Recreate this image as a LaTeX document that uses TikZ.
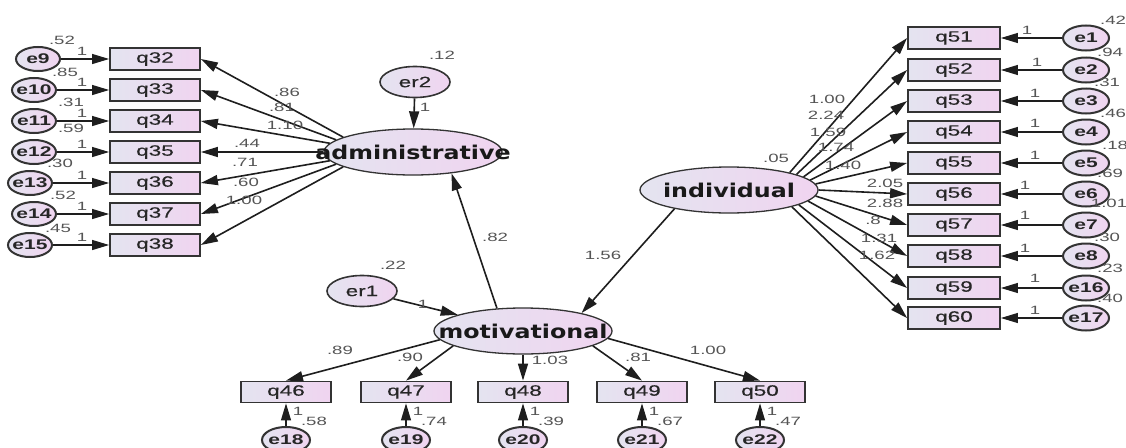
\documentclass[tikz,border=0pt]{standalone}
\usepackage{fontspec}
\usetikzlibrary{shapes.geometric,arrows.meta}
\newfontfamily\obsfont[FakeStretch=1.5,FakeBold=0.4]{Liberation Sans}
\newfontfamily\errfont[FakeStretch=1.5]{Liberation Sans}
\newfontfamily\latfont[FakeStretch=1.25]{DejaVu Sans}
\newfontfamily\lblfont[FakeStretch=1.55]{Liberation Sans}
\definecolor{lnc}{HTML}{1E1E1E}
\definecolor{bdr}{HTML}{333333}
\definecolor{shL}{HTML}{E4E4F0}
\definecolor{shR}{HTML}{F0D4F0}
\definecolor{lblc}{HTML}{555555}
\definecolor{txtc}{HTML}{262626}
\tikzset{
 obs/.style={rectangle, draw=bdr, line width=1.8pt, minimum width=90pt, minimum height=22pt, inner sep=0pt, left color=shL, right color=shR, font=\obsfont\fontsize{15}{15}\selectfont, text=txtc},
 err/.style={ellipse, draw=bdr, line width=2pt, minimum width=44pt, minimum height=24pt, inner sep=0pt, left color=shL, right color=shR, font=\errfont\fontsize{14}{14}\selectfont\bfseries, text=txtc},
 dist/.style={ellipse, draw=bdr, line width=1.6pt, minimum width=70pt, minimum height=31pt, inner sep=0pt, left color=shL, right color=shR, font=\obsfont\fontsize{15}{15}\selectfont, text=txtc},
 lat/.style={ellipse, draw=bdr, line width=1.3pt, minimum width=178pt, minimum height=46pt, inner sep=0pt, left color=shL, right color=shR, font=\latfont\bfseries\fontsize{19}{19}\selectfont, text=black!90},
 lbl/.style={font=\lblfont\fontsize{12}{12}\selectfont, text=lblc, inner sep=0pt},
 conn/.style={draw=lnc, line width=1.6pt, -{Triangle[length=17pt,width=10pt]}},
 econn/.style={draw=lnc, line width=1.1pt, -{Triangle[length=17pt,width=10pt]}},
}
\newcommand{\ctr}[1]{\makebox[0pt]{#1}}
\begin{document}
\begin{tikzpicture}[x=1pt,y=-1pt]
\useasboundingbox (0,0) rectangle (1126,447);
\fill[white] (0,0) rectangle (1126,447);
% latent variables
\node[lat] (adm) at (413,152) {\ctr{administrative}};
\node[lat] (mot) at (523,331) {\ctr{motivational}};
\node[lat] (ind) at (729,190) {\ctr{individual}};
\node[dist] (er2) at (415,82) {er2};
\node[dist] (er1) at (362,291) {er1};
\draw[conn] (er2) -- (adm);
\draw[conn] (er1) -- (mot);
\draw[conn] (mot.139) -- (adm.331);
\draw[conn] (ind.199) -- (mot.17);
\node[lbl] (v12) at (442,55) {.12};
\node[lbl] (o12) at (425,107) {1};
\node[lbl] (v22) at (393,265) {.22};
\node[lbl] (o22) at (423,304) {1};
\node[lbl] (v05) at (776,158) {.05};
\node[lbl] (c82) at (495,237) {.82};
\node[lbl] (c156) at (603,255) {1.56};
% left block
\foreach \q/\e/\y/\ex/\v/\vx/\vy in {32/9/59/38/.52/62/40, 33/10/90/34/.85/65/72, 34/11/121/34/.31/71/102, 35/12/152/34/.59/71/128, 36/13/183/30/.30/60/163, 37/14/214/34/.52/63/195, 38/15/245/30/.45/58/228}{
 \node[obs] (q\q) at (155,\y) {q\q};
 \node[err] (e\e) at (\ex,\y) {\ctr{e\e}};
 \draw[econn] (e\e) -- (q\q);
 \node[lbl] (o\e) at (82,\y-8) {1};
 \node[lbl] (v\e) at (\vx,\vy) {\v};
}
\foreach \q/\a/\lx/\ly/\t in {32/168/287/92/.86, 33/171/282/107/.81, 34/174/285/125/1.10, 35/180/247/143/.44, 36/186/245/162/.71, 37/189/246/182/.60, 38/192/244/200/1.00}{
 \draw[conn] (adm.\a) -- (q\q.east);
 \node[lbl] (c\q) at (\lx,\ly) {\t};
}
% right block
\foreach \q/\e/\y/\a/\t/\lx/\ly/\v/\vx/\vy/\ox/\oy in {51/1/38/16/1.00/827/99/.42/1113/20/1027/30, 52/2/70/13/2.24/826/115/.94/1110/52/1037/62, 53/3/101/10/1.59/828/132/.31/1107/82/1035/93, 54/4/132/7/1.74/836/147/.46/1113/113/1035/123, 55/5/163/4/1.40/843/165/.18/1115/145/1035/155, 56/6/194/0/2.05/885/183/.69/1110/173/1025/185, 57/7/225/356/2.88/885/203/1.01/1109/203/1025/215, 58/8/256/352/.8/873/220/.30/1107/237/1025/248, 59/16/288/348/1.31/879/238/.23/1110/268/1035/278, 60/17/318/345/1.62/877/255/.40/1110/298/1035/310}{
 \node[obs, minimum width=92pt] (q\q) at (954,\y) {q\q};
 \node[err, minimum width=46pt, minimum height=25pt] (e\e) at (1086,\y) {\ctr{e\e}};
 \draw[econn] (e\e) -- (q\q);
 \draw[conn] (ind.\a) -- (q\q.west);
 \node[lbl] (o\e) at (\ox,\oy) {1};
 \node[lbl] (v\e) at (\vx,\vy) {\v};
 \node[lbl] (c\q) at (\lx,\ly) {\t};
}
% bottom block
\foreach \q/\e/\x/\a/\t/\lx/\ly/\v in {46/18/286/186/.89/340/350/.58, 47/19/406/192/.90/410/357/.74, 48/20/523/270/1.03/550/360/.39, 49/21/642/348/.81/638/357/.67, 50/22/760/355/1.00/708/350/.47}{
 \node[obs, minimum height=21pt] (q\q) at (\x,392) {q\q};
 \node[err, minimum width=48pt, minimum height=26pt] (e\e) at (\x,440) {\ctr{e\e}};
 \draw[econn] (e\e) -- (q\q);
 \draw[conn] (mot.\a) -- (q\q.north);
 \node[lbl] (o\e) at (\x+12,411) {1};
 \node[lbl] (v\e) at (\x+28,421) {\v};
 \node[lbl] (c\q) at (\lx,\ly) {\t};
}
\end{tikzpicture}
\end{document}
